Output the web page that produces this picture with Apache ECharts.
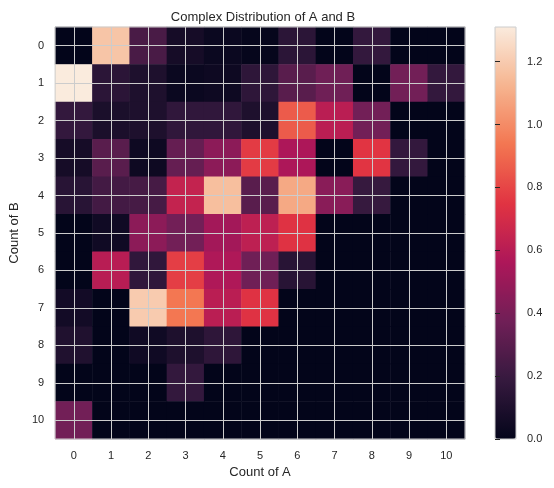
<!DOCTYPE html>
<html>
<head>
<meta charset="utf-8">
<script src="https://cdn.jsdelivr.net/npm/echarts@6/dist/echarts.min.js"></script>
<style>html,body{margin:0;padding:0;background:#fff}#c{width:554px;height:488px}</style>
</head>
<body>
<div id="c"></div>
<script>
var countsA = ['0','1','2','3','4','5','6','7','8','9','10'];
var countsB = ['0','1','2','3','4','5','6','7','8','9','10'];
var row0  = [0.00, 1.18, 0.25, 0.07, 0.03, 0.01, 0.15, 0.00, 0.18, 0.00, 0.00];
var row1  = [1.31, 0.15, 0.10, 0.03, 0.04, 0.16, 0.30, 0.37, 0.00, 0.38, 0.18];
var row2  = [0.18, 0.09, 0.10, 0.17, 0.17, 0.10, 0.86, 0.61, 0.38, 0.00, 0.00];
var row3  = [0.07, 0.30, 0.04, 0.34, 0.46, 0.77, 0.56, 0.00, 0.75, 0.18, 0.00];
var row4  = [0.14, 0.23, 0.24, 0.64, 1.16, 0.30, 1.09, 0.45, 0.19, 0.00, 0.00];
var row5  = [0.00, 0.05, 0.46, 0.38, 0.53, 0.62, 0.74, 0.00, 0.00, 0.00, 0.00];
var row6  = [0.00, 0.60, 0.17, 0.78, 0.57, 0.37, 0.14, 0.00, 0.00, 0.00, 0.00];
var row7  = [0.06, 0.00, 1.20, 0.94, 0.61, 0.74, 0.00, 0.00, 0.00, 0.00, 0.00];
var row8  = [0.11, 0.00, 0.05, 0.10, 0.16, 0.00, 0.00, 0.00, 0.00, 0.00, 0.00];
var row9  = [0.00, 0.00, 0.00, 0.18, 0.00, 0.00, 0.00, 0.00, 0.00, 0.00, 0.00];
var row10 = [0.38, 0.00, 0.00, 0.00, 0.00, 0.00, 0.00, 0.00, 0.00, 0.00, 0.00];
var colorbarTicks = [0, 0.2, 0.4, 0.6, 0.8, 1.0, 1.2];
var vmax = 1.31;

var rows = [row0,row1,row2,row3,row4,row5,row6,row7,row8,row9,row10];
var data = [];
rows.forEach(function (r, yi) { r.forEach(function (v, xi) { data.push([xi, yi, v]); }); });

var rocket = ['#03051A','#35193E','#701F57','#AD1759','#E13342','#F37651','#F6B48F','#FAEBDD'];
var txt = '#262626', edge = '#cccccc', font = 'Liberation Sans';

var chart = echarts.init(document.getElementById('c'), null, {renderer: 'canvas'});
chart.setOption({
  animation: false,
  textStyle: {fontFamily: font},
  title: {text: 'Complex Distribution of A and B', left: 258, top: 6, textAlign: 'center',
    textStyle: {fontSize: 13, fontWeight: 'normal', color: txt, fontFamily: font}},
  grid: [
    {left: 53, top: 27, width: 412, height: 412, show: true, z: 10, backgroundColor: 'transparent', borderColor: edge, borderWidth: 1},
    {left: 495, top: 27, width: 21, height: 412, show: true, z: 10, backgroundColor: 'transparent', borderColor: edge, borderWidth: 1}
  ],
  xAxis: [
    {type: 'category', data: countsA, gridIndex: 0, z: 10,
     name: 'Count of A', nameLocation: 'middle', nameGap: 25,
     nameTextStyle: {fontSize: 13, color: txt, fontFamily: font},
     axisLine: {show: false}, axisTick: {show: false},
     axisLabel: {fontSize: 11, color: txt, margin: 11, fontFamily: font},
     splitLine: {show: true, alignWithLabel: true, lineStyle: {color: edge, width: 1}}},
    {type: 'value', gridIndex: 1, min: 0, max: 1, show: false,
     axisLine: {show: false}, axisTick: {show: false}, axisLabel: {show: false}, splitLine: {show: false}}
  ],
  yAxis: [
    {type: 'category', data: countsB, gridIndex: 0, inverse: true, z: 10,
     name: 'Count of B', nameLocation: 'middle', nameGap: 34, nameRotate: 90,
     nameTextStyle: {fontSize: 13, color: txt, fontFamily: font},
     axisLine: {show: false}, axisTick: {show: false},
     axisLabel: {fontSize: 11, color: txt, margin: 11, fontFamily: font},
     splitLine: {show: true, alignWithLabel: true, lineStyle: {color: edge, width: 1}}},
    {type: 'value', gridIndex: 1, min: 0, max: vmax, position: 'right', z: 10,
     axisLine: {show: false},
     axisTick: {show: true, length: 5, customValues: colorbarTicks, lineStyle: {color: txt}},
     axisLabel: {fontSize: 11, color: txt, margin: 11, fontFamily: font, customValues: colorbarTicks,
       formatter: function (v) { return v.toFixed(1); }},
     splitLine: {show: false}}
  ],
  visualMap: {
    type: 'continuous', min: 0, max: vmax, calculable: false, orient: 'vertical', hoverLink: false,
    left: 495, top: 27, itemWidth: 21, itemHeight: 412, padding: 0, text: null,
    seriesIndex: 0, inRange: {color: rocket}
  },
  series: [
    {type: 'heatmap', xAxisIndex: 0, yAxisIndex: 0, data: data, itemStyle: {borderWidth: 0}}
  ]
});
</script>
</body>
</html>
